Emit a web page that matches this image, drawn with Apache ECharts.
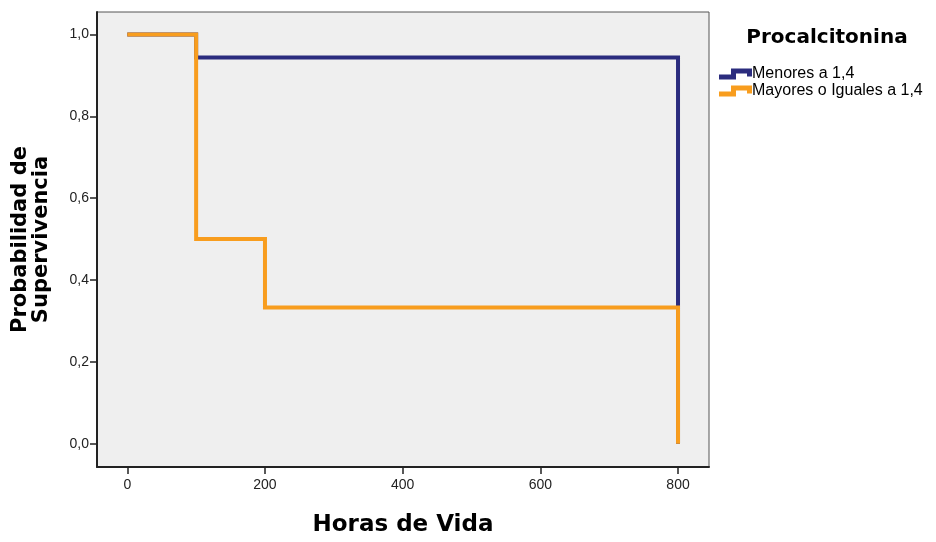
<!DOCTYPE html>
<html>
<head>
<meta charset="utf-8">
<script src="https://cdn.jsdelivr.net/npm/echarts@6/dist/echarts.min.js"></script>
<style>
  html, body { margin: 0; padding: 0; background: #fff; }
  #main { width: 936px; height: 542px; }
</style>
</head>
<body>
<div id="main"></div>
<script>
// datos de la curva (horas, probabilidad)
const menoresHoras = [0, 100, 800];
const menoresProb = [1.0, 0.944, 0.0];
const mayoresHoras = [0, 100, 200, 800];
const mayoresProb = [1.0, 0.5, 0.333, 0.0];
const xTicks = [0, 200, 400, 600, 800];
const yTicks = [0, 0.2, 0.4, 0.6, 0.8, 1.0];
const seriesNames = ['Menores a 1,4', 'Mayores o Iguales a 1,4'];
const colores = ['#2b2c7e', '#f89d1e'];

const pairs = (xs, ys) => xs.map((x, i) => [x, ys[i]]);
const stepIcon = 'path://M0,6 L12,6 L12,0 L33,0 L33,8 L28,8 L28,5 L17,5 L17,11 L0,11 Z';
const heavy = '"DejaVu Sans", sans-serif';
const plain = '"Liberation Sans", Arial, sans-serif';

const chart = echarts.init(document.getElementById('main'));
const option = {
  animation: false,
  title: {
    text: 'Procalcitonina',
    left: 822, top: 23, textAlign: 'center',
    textStyle: { fontFamily: heavy, fontWeight: 900, fontSize: 20, color: '#000' }
  },
  legend: {
    orient: 'vertical',
    left: 714, top: 61,
    itemWidth: 33, itemHeight: 11, itemGap: 1,
    textStyle: { fontFamily: plain, fontSize: 16, color: '#000', padding: [0, 0, 0, -5] },
    data: seriesNames.map((n, i) => ({
      name: n, icon: stepIcon,
      itemStyle: { color: colores[i], borderWidth: 0 }
    }))
  },
  grid: {
    left: 97, top: 12, right: 227, bottom: 75,
    containLabel: false, outerBoundsMode: 'none',
    show: true, backgroundColor: '#efefef', borderColor: '#555', borderWidth: 1
  },
  xAxis: {
    type: 'value', min: -44, max: 845,
    name: 'Horas de Vida', nameLocation: 'middle', nameGap: 47,
    nameTextStyle: { fontFamily: heavy, fontWeight: 900, fontSize: 23, color: '#000' },
    axisLine: { show: true, onZero: false, lineStyle: { color: '#222', width: 2 } },
    axisTick: { show: true, length: 7, customValues: xTicks, lineStyle: { color: '#222', width: 1.5 } },
    axisLabel: { customValues: xTicks, margin: 11, fontFamily: plain, fontSize: 14, color: '#222' },
    splitLine: { show: false }
  },
  yAxis: {
    type: 'value', min: -0.057, max: 1.055,
    name: 'Probabilidad de\nSupervivencia', nameLocation: 'middle', nameGap: 45, nameRotate: 90,
    nameTextStyle: { fontFamily: heavy, fontWeight: 900, fontSize: 21, color: '#000', lineHeight: 21 },
    axisLine: { show: true, onZero: false, lineStyle: { color: '#222', width: 2 } },
    axisTick: { show: true, length: 7, customValues: yTicks, lineStyle: { color: '#222', width: 1.5 } },
    axisLabel: {
      customValues: yTicks, margin: 8, fontFamily: plain, fontSize: 14, color: '#222',
      formatter: v => v.toFixed(1).replace('.', ',')
    },
    splitLine: { show: false }
  },
  series: [
    {
      name: seriesNames[0], type: 'line', step: 'end', symbol: 'none',
      data: pairs(menoresHoras, menoresProb),
      itemStyle: { color: colores[0] },
      lineStyle: { color: colores[0], width: 4, cap: 'butt', join: 'miter' }
    },
    {
      name: seriesNames[1], type: 'line', step: 'end', symbol: 'none',
      data: pairs(mayoresHoras, mayoresProb),
      itemStyle: { color: colores[1] },
      lineStyle: { color: colores[1], width: 4, cap: 'butt', join: 'miter' }
    }
  ]
};
chart.setOption(option);
</script>
</body>
</html>
